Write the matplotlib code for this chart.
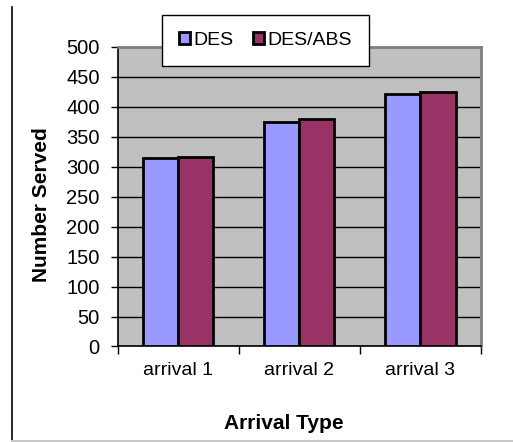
import numpy as np
import matplotlib.pyplot as plt
from matplotlib.lines import Line2D

plt.rcParams['font.family'] = ['Liberation Sans', 'DejaVu Sans']

# Datos
categorias = ["arrival 1", "arrival 2", "arrival 3"]
des = [314, 375, 421]
des_abs = [316, 380, 425]
series = ["DES", "DES/ABS"]
yticks = [0, 50, 100, 150, 200, 250, 300, 350, 400, 450, 500]

fig = plt.figure(figsize=(5.13, 4.42), dpi=100)
ax = fig.add_axes([0.2294, 0.2161, 0.7082, 0.6776])
ax.set_facecolor("#C0C0C0")

x = np.arange(len(categorias))
w = 0.29
ax.bar(x - w / 2, des, w, color="#9999FF", edgecolor="black", linewidth=2.0,
       label=series[0], zorder=3)
ax.bar(x + w / 2, des_abs, w, color="#993366", edgecolor="black", linewidth=2.0,
       label=series[1], zorder=3)

ax.set_xlim(-0.5, len(categorias) - 0.5)
ax.set_ylim(0, 500)
ax.set_yticks(yticks)
ax.yaxis.grid(True, color="black", linewidth=1.0, zorder=1)

# marcas en los límites de categoría, etiquetas centradas
ax.set_xticks(np.arange(len(categorias) + 1) - 0.5)
ax.set_xticklabels([])
ax.set_xticks(x, minor=True)
ax.set_xticklabels(categorias, minor=True)
ax.tick_params(axis="x", which="major", direction="out", length=6, width=1)
ax.tick_params(axis="x", which="minor", length=0, pad=11, labelsize=14)
ax.tick_params(axis="y", direction="out", length=5, width=1, pad=8, labelsize=14.5)

for s in ["top", "right"]:
    ax.spines[s].set_color("#808080")
    ax.spines[s].set_linewidth(2)
for s in ["left", "bottom"]:
    ax.spines[s].set_color("black")
    ax.spines[s].set_linewidth(1.2)

fig.text(0.0810, 0.538, "Number Served", rotation=90, ha="center", va="center",
         fontsize=15, fontweight="bold")
fig.text(0.5532, 0.041, "Arrival Type", ha="center", va="center",
         fontsize=15, fontweight="bold")

leg = fig.legend(loc="center", bbox_to_anchor=(0.5175, 0.9084), ncol=2,
                 fancybox=False, frameon=True, edgecolor="black", fontsize=14,
                 framealpha=1.0, handlelength=0.55, handleheight=0.55,
                 handletextpad=0.2, columnspacing=1.0, borderpad=0.85,
                 borderaxespad=0)
leg.get_frame().set_linewidth(1.0)
for h in leg.legend_handles:
    h.set_linewidth(2.0)

# marco del gráfico
fig.add_artist(Line2D([11.5 / 513, 11.5 / 513], [1 - 7 / 442, 1 - 441 / 442],
                      color="black", linewidth=1.2))
fig.add_artist(Line2D([11.5 / 513, 1], [1 - 441 / 442, 1 - 441 / 442],
                      color="#C8C8C8", linewidth=1.5))

fig.savefig("out.png", dpi=100)
